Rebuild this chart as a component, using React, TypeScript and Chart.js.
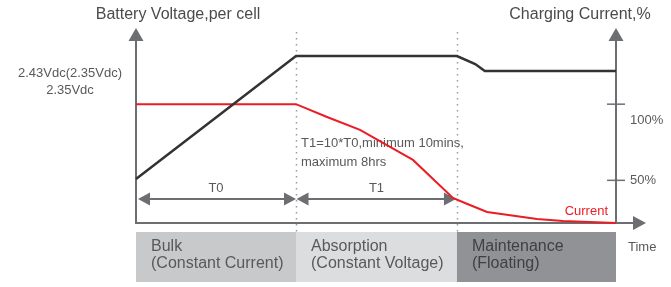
import React, { useEffect, useRef } from "react";
import { Chart, registerables } from "chart.js";

Chart.register(...registerables);

// ---- data ----
const timeVoltage = [0, 10, 20.06, 21.2, 21.8, 30];
const voltageValues = [22.6, 85.6, 85.6, 81.5, 77.9, 77.9];
const timeCurrent = [0, 10, 11.94, 14, 17.31, 19.81, 20.56, 21.94, 25.06, 26.69, 30];
const currentValues = [100, 100, 91.6, 83.1, 63.4, 38.4, 35.1, 29.2, 24.6, 23.3, 22];
const phaseEdges = [0, 10, 20.06, 30];
const phaseNames = ["Bulk", "Absorption", "Maintenance"];
const phaseSubs = ["(Constant Current)", "(Constant Voltage)", "(Floating)"];
const currentTicks = [100, 50];
const currentTickLabels = ["100%", "50%"];
const voltageLabels = ["2.43Vdc(2.35Vdc)", "2.35Vdc"];
const durationLabels = ["T0", "T1"];
const noteLines = ["T1=10*T0,minimum 10mins,", "maximum 8hrs"];

const FONT = "'Liberation Sans', Arial, sans-serif";
const AXIS = "#6d6e71";
const TEXT = "#58595b";

const decorPlugin = {
  id: "decor",
  beforeDatasetsDraw(chart: any) {
    const { ctx, chartArea: a, scales } = chart;
    const px = (v: number) => scales.x.getPixelForValue(v);
    const pyC = (v: number) => scales.yC.getPixelForValue(v);
    ctx.save();

    // phase boxes
    const boxTop = a.bottom + 9;
    const boxBottom = a.bottom + 59;
    const boxColors = ["#c8c9cb", "#dcdddf", "#919296"];
    const boxText = ["#58595b", "#58595b", "#3f4042"];
    for (let i = 0; i < 3; i++) {
      const x0 = px(phaseEdges[i]);
      const x1 = px(phaseEdges[i + 1]);
      ctx.fillStyle = boxColors[i];
      ctx.fillRect(x0, boxTop, x1 - x0, boxBottom - boxTop);
      ctx.fillStyle = boxText[i];
      ctx.font = `16px ${FONT}`;
      ctx.textBaseline = "middle";
      ctx.textAlign = "left";
      ctx.fillText(phaseNames[i], x0 + 15, boxTop + 15);
      ctx.fillText(phaseSubs[i], x0 + 15, boxTop + 32);
    }

    // dotted phase separators
    ctx.strokeStyle = "#9a9b9e";
    ctx.lineWidth = 1.5;
    ctx.setLineDash([1.5, 4.5]);
    for (let i = 1; i < 3; i++) {
      const x = Math.round(px(phaseEdges[i])) + 0.5;
      ctx.beginPath();
      ctx.moveTo(x, a.top + 4);
      ctx.lineTo(x, boxTop);
      ctx.stroke();
    }
    ctx.setLineDash([]);

    const tri = (x1: number, y1: number, x2: number, y2: number, x3: number, y3: number) => {
      ctx.beginPath();
      ctx.moveTo(x1, y1);
      ctx.lineTo(x2, y2);
      ctx.lineTo(x3, y3);
      ctx.closePath();
      ctx.fill();
    };

    // axes
    ctx.strokeStyle = AXIS;
    ctx.fillStyle = AXIS;
    ctx.lineWidth = 2;
    [a.left, a.right].forEach((x: number) => {
      ctx.beginPath();
      ctx.moveTo(x, a.top + 10);
      ctx.lineTo(x, a.bottom + 1);
      ctx.stroke();
      tri(x, a.top, x - 7.5, a.top + 13, x + 7.5, a.top + 13);
    });
    ctx.beginPath();
    ctx.moveTo(a.left - 1, a.bottom);
    ctx.lineTo(a.right + 20, a.bottom);
    ctx.stroke();
    tri(a.right + 30, a.bottom, a.right + 17, a.bottom - 7, a.right + 17, a.bottom + 7);

    // right ticks
    ctx.lineWidth = 1.5;
    currentTicks.forEach((v) => {
      const y = pyC(v);
      ctx.beginPath();
      ctx.moveTo(a.right - 9, y);
      ctx.lineTo(a.right + 9, y);
      ctx.stroke();
    });

    // duration arrows
    const ay = a.bottom - 24;
    ctx.lineWidth = 2;
    for (let i = 0; i < 2; i++) {
      const x0 = px(phaseEdges[i]) + (i === 0 ? 2 : 0.5);
      const x1 = px(phaseEdges[i + 1]) - (i === 0 ? 0 : 1);
      ctx.beginPath();
      ctx.moveTo(x0 + 6, ay);
      ctx.lineTo(x1 - 6, ay);
      ctx.stroke();
      tri(x0, ay, x0 + 12, ay - 6.5, x0 + 12, ay + 6.5);
      tri(x1, ay, x1 - 12, ay - 6.5, x1 - 12, ay + 6.5);
      ctx.fillStyle = TEXT;
      ctx.font = `13px ${FONT}`;
      ctx.textAlign = "center";
      ctx.textBaseline = "middle";
      ctx.fillText(durationLabels[i], (px(phaseEdges[i]) + px(phaseEdges[i + 1])) / 2, ay - 11);
      ctx.fillStyle = AXIS;
    }

    // texts
    ctx.fillStyle = "#4a4b4d";
    ctx.font = `16px ${FONT}`;
    ctx.textAlign = "center";
    ctx.textBaseline = "middle";
    ctx.fillText("Battery Voltage,per cell", a.left + 42, 15);
    ctx.fillText("Charging Current,%", a.right - 36, 15);

    ctx.fillStyle = TEXT;
    ctx.font = `13px ${FONT}`;
    ctx.fillText(voltageLabels[0], 70, 73);
    ctx.fillText(voltageLabels[1], 70, 90);

    ctx.textAlign = "left";
    ctx.fillText(noteLines[0], px(phaseEdges[1]) + 5, 143);
    ctx.fillText(noteLines[1], px(phaseEdges[1]) + 5, 162);

    ctx.fillText(currentTickLabels[0], a.right + 14, pyC(currentTicks[0]) + 16);
    ctx.fillText(currentTickLabels[1], a.right + 14, pyC(currentTicks[1]));

    ctx.fillText("Time", a.right + 12, boxTop + 15);

    ctx.fillStyle = "#ec1c24";
    ctx.textAlign = "right";
    ctx.fillText("Current", a.right - 8, a.bottom - 12);

    ctx.restore();
  },
};

export default function App() {
  const ref = useRef<HTMLCanvasElement | null>(null);
  useEffect(() => {
    document.body.style.margin = "0";
    if (!ref.current) return;
    const chart = new Chart(ref.current, {
      type: "line",
      data: {
        datasets: [
          {
            label: "Voltage",
            data: timeVoltage.map((t, i) => ({ x: t, y: voltageValues[i] })),
            borderColor: "#333335",
            borderWidth: 2.5,
            pointRadius: 0,
            tension: 0,
            yAxisID: "yV",
            clip: false as any,
          },
          {
            label: "Current",
            data: timeCurrent.map((t, i) => ({ x: t, y: currentValues[i] })),
            borderColor: "#ec1c24",
            borderWidth: 2,
            pointRadius: 0,
            tension: 0,
            yAxisID: "yC",
            clip: false as any,
          },
        ],
      },
      options: {
        responsive: false,
        animation: false,
        layout: { padding: { left: 136, right: 55, top: 28, bottom: 64 } },
        plugins: { legend: { display: false }, tooltip: { enabled: false } },
        scales: {
          x: { type: "linear", min: 0, max: 30, display: false },
          yV: { type: "linear", min: 0, max: 100, display: false, position: "left" },
          yC: { type: "linear", min: 22, max: 150, display: false, position: "right" },
        },
      },
      plugins: [decorPlugin],
    });
    return () => chart.destroy();
  }, []);
  return (
    <div style={{ width: 671, height: 287 }}>
      <canvas ref={ref} width={671} height={287} style={{ display: "block" }} />
    </div>
  );
}
